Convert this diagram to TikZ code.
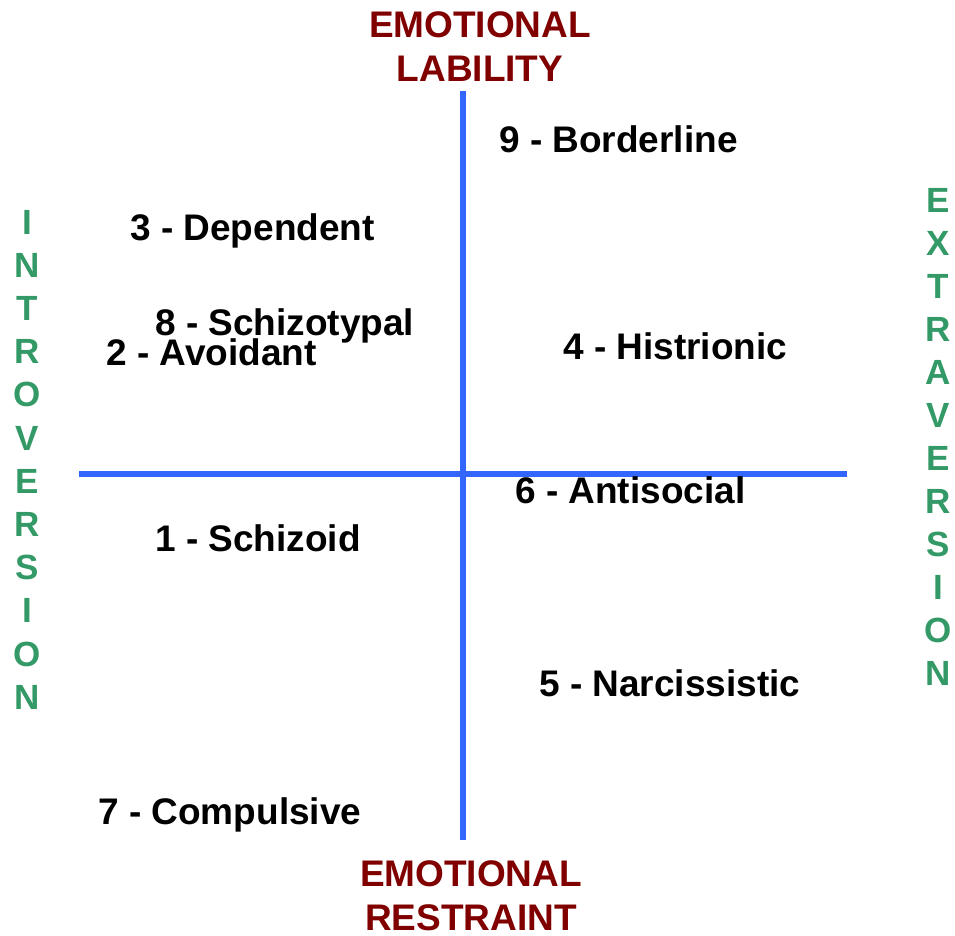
\documentclass[tikz,border=0pt]{standalone}
\usepackage{fontspec}
\setmainfont{Liberation Sans}
\definecolor{axisred}{HTML}{800000}
\definecolor{axisgreen}{HTML}{339966}
\definecolor{axisblue}{HTML}{3366FF}
\begin{document}
\begin{tikzpicture}[x=1pt,y=-1pt,
  cat/.style={anchor=base west,inner sep=0pt,font=\fontsize{37}{40}\selectfont\bfseries,text=black},
  axlab/.style={anchor=center,inner sep=0pt,align=center,font=\fontsize{37}{44}\selectfont\bfseries,text=axisred},
  vlet/.style={anchor=center,inner sep=0pt,font=\fontsize{35}{40}\selectfont\bfseries,text=axisgreen},
  axis/.style={draw=axisblue,line width=5.5pt}]
\useasboundingbox (0,0) rectangle (955,935);
\coordinate (vtop) at (463,91);
\coordinate (vbot) at (463,840);
\coordinate (hl) at (79,474);
\coordinate (hr) at (847,474);
\draw[axis] (vtop) -- (vbot);
\draw[axis] (hl) -- (hr);
\node[axlab] (lab) at (480,47) {EMOTIONAL\\LABILITY};
\node[axlab] (res) at (471,896) {EMOTIONAL\\RESTRAINT};
\foreach \l [count=\i] in {I,N,T,R,O,V,E,R,S,I,O,N}
  \node[vlet] (in\i) at (27,{222+43.2*(\i-1)}) {\l};
\foreach \l [count=\i] in {E,X,T,R,A,V,E,R,S,I,O,N}
  \node[vlet] (ex\i) at (938,{200+43*(\i-1)}) {\l};
\node[cat] (c9) at (499,152) {9 - Borderline};
\node[cat] (c3) at (130,240) {3 - Dependent};
\node[cat] (c8) at (155,335) {8 - Schizotypal};
\node[cat] (c2) at (106,365) {2 - Avoidant};
\node[cat] (c4) at (563,359) {4 - Histrionic};
\node[cat] (c6) at (515,503) {6 - Antisocial};
\node[cat] (c1) at (155,551) {1 - Schizoid};
\node[cat] (c5) at (539,696) {5 - Narcissistic};
\node[cat] (c7) at (98,824) {7 - Compulsive};
\end{tikzpicture}
\end{document}
